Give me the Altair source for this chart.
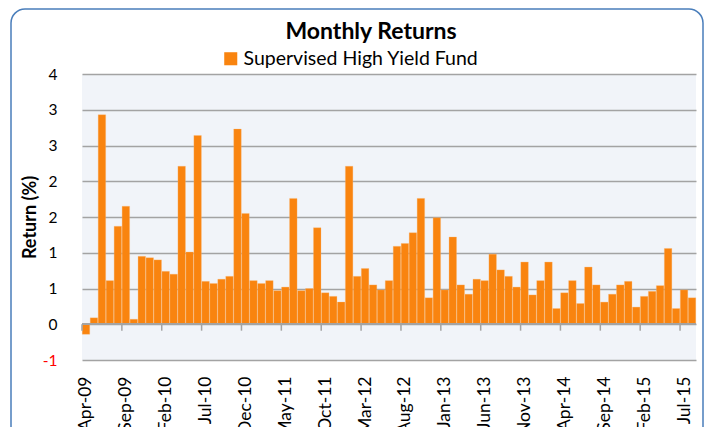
import altair as alt
import pandas as pd

# Monthly returns (%) Apr-09 .. Aug-15
months = pd.date_range("2009-04-01", periods=77, freq="MS").strftime("%b-%y").tolist()
returns = [-0.14, 0.09, 2.93, 0.61, 1.37, 1.65, 0.07, 0.95, 0.93, 0.90,
           0.74, 0.70, 2.21, 1.01, 2.64, 0.60, 0.57, 0.63, 0.67, 2.73,
           1.55, 0.61, 0.57, 0.61, 0.47, 0.52, 1.76, 0.47, 0.50, 1.35,
           0.44, 0.39, 0.31, 2.21, 0.67, 0.78, 0.55, 0.48, 0.61, 1.09,
           1.13, 1.28, 1.76, 0.37, 1.49, 0.48, 1.22, 0.55, 0.42, 0.63,
           0.61, 0.98, 0.76, 0.67, 0.52, 0.87, 0.41, 0.61, 0.87, 0.22,
           0.44, 0.61, 0.29, 0.80, 0.55, 0.31, 0.42, 0.55, 0.60, 0.24,
           0.39, 0.46, 0.54, 1.06, 0.22, 0.48, 0.37]
series_name = "Supervised High Yield Fund"
y_ticks = [-0.5, 0.0, 0.5, 1.0, 1.5, 2.0, 2.5, 3.0, 3.5]
label_step = 5

FONT = "Lato"
ORANGE = "#F9840F"
GRID = "#A3A3A3"

n = len(months)
df = pd.DataFrame({"i": list(range(n)), "month": months, "ret": returns,
                   "series": [series_name] * n})
tick_df = pd.DataFrame({"b": list(range(0, n, label_step))})
label_vals = [k + 0.5 for k in range(0, n, label_step)]
label_arr = "[" + ",".join("'" + m + "'" for m in months) + "]"

xscale = alt.Scale(domain=[0, n], nice=False, zero=False)
yscale = alt.Scale(domain=[-0.5, 3.5], nice=False, zero=False)

x_axis = alt.Axis(values=label_vals, labelExpr=label_arr + "[floor(datum.value)]",
                  labelAngle=270, labelFontSize=17.5, labelFont=FONT,
                  labelColor="#000000", labelPadding=16, ticks=False,
                  domain=False, grid=False, title=None, labelOverlap=False)
y_axis = alt.Axis(values=y_ticks,
                  labelExpr="(datum.value < 0 ? '-' : '') + round(abs(datum.value))",
                  labelColor={"condition": {"test": "datum.value < 0", "value": "#FF0000"},
                              "value": "#000000"},
                  labelFontSize=15.5, labelFont=FONT, labelPadding=25,
                  labelOverlap=False,
                  ticks=False, domain=False, grid=True,
                  gridColor=GRID, gridWidth=1.5,
                  title="Return (%)", titleFont=FONT, titleFontSize=18,
                  titleFontWeight="bold", titleColor="#000000",
                  titleX=-52, titleY=143, titleAngle=270,
                  titleAlign="center", titleBaseline="middle")

base = alt.Chart(df)

bars = base.mark_rect(stroke="#FBB774", strokeWidth=0.3).transform_calculate(
    x0="datum.i + 0.03", x1="datum.i + 0.97", zero="0"
).encode(
    x=alt.X("x0:Q", scale=xscale, axis=x_axis),
    x2="x1:Q",
    y=alt.Y("ret:Q", scale=yscale, axis=y_axis),
    y2="zero:Q",
    color=alt.Color("series:N", scale=alt.Scale(range=[ORANGE]),
                    legend=alt.Legend(orient="none", legendX=139, legendY=-25,
                                      title=None, symbolType="square",
                                      symbolSize=170, symbolStrokeWidth=0,
                                      labelFont=FONT, labelFontSize=19.5, labelLimit=400,
                                      labelOffset=3,
                                      labelColor="#000000", direction="horizontal")),
)

zero_line = base.mark_rule(color=GRID, strokeWidth=1.5).encode(
    y=alt.Y(datum=0, scale=yscale, axis=y_axis))

ticks = alt.Chart(tick_df).mark_rule(color=GRID, strokeWidth=1.5).encode(
    x=alt.X("b:Q", scale=xscale, axis=x_axis),
    y=alt.Y(datum=0, scale=yscale, axis=y_axis),
    y2=alt.Y2(datum=-0.09),
)

title = alt.Chart(pd.DataFrame({"t": ["Monthly Returns"]})).mark_text(
    font=FONT, fontSize=23, fontWeight="bold", color="#000000",
    align="center", baseline="middle"
).encode(text="t:N", x=alt.value(289), y=alt.value(-42))

frame = alt.Chart(pd.DataFrame({"f": [0]})).mark_rect(
    fillOpacity=0, stroke="#4A7EBB", strokeWidth=1.5, cornerRadius=14
).encode(x=alt.value(-71), x2=alt.value(621), y=alt.value(-65), y2=alt.value(420))

chart = alt.layer(frame, bars, zero_line, ticks, title).properties(
    width=614, height=286,
    autosize=alt.AutoSizeParams(type="none"),
    padding={"left": 74, "top": 66, "right": 9, "bottom": 67},
    background="#FFFFFF",
).configure_view(fill="#F1F4F9", stroke=None)

chart.save("out.html", embed_options={"renderer": "svg", "actions": False})
